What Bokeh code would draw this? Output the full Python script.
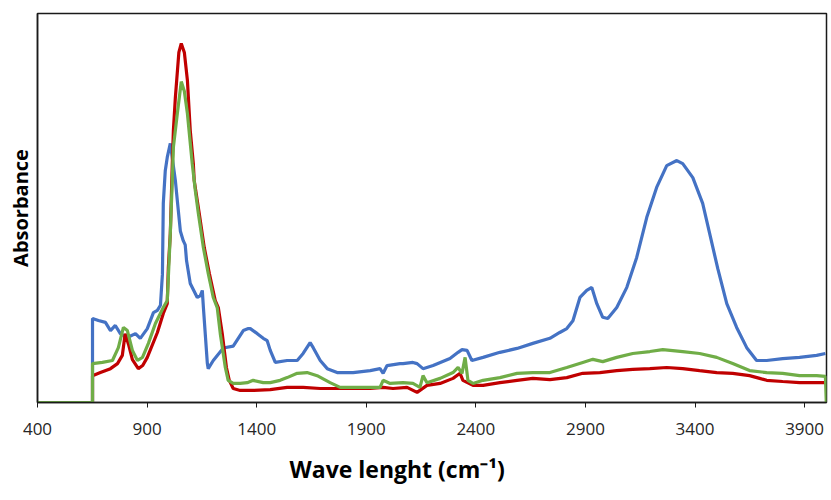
from bokeh.plotting import figure
from bokeh.models import Range1d, FixedTicker, Title
from bokeh.embed import file_html
from bokeh.resources import INLINE

# ---- data (wavenumber cm-1, absorbance a.u.) ----
blue_wn = [651, 651, 678, 710, 733, 755, 778, 810, 847, 869, 901, 929, 947, 961, 970,
           974, 983, 992, 1006, 1029, 1038, 1052, 1065, 1074, 1080, 1097, 1129, 1143,
           1152, 1157, 1175, 1179, 1202, 1248, 1293, 1339, 1362, 1371, 1403, 1430, 1448,
           1462, 1485, 1539, 1585, 1612, 1644, 1658, 1690, 1722, 1767, 1840, 1918, 1963,
           1977, 1995, 2054, 2068, 2113, 2132, 2159, 2205, 2282, 2319, 2337, 2360, 2382,
           2433, 2510, 2588, 2660, 2738, 2783, 2815, 2843, 2875, 2906, 2929, 2952, 2979,
           3002, 3043, 3089, 3134, 3180, 3225, 3271, 3317, 3344, 3390, 3435, 3467, 3504,
           3545, 3590, 3636, 3681, 3727, 3800, 3877, 3955, 3995]
blue_abs = [0.0, 0.216, 0.211, 0.206, 0.185, 0.198, 0.177, 0.167, 0.177, 0.165, 0.190,
            0.231, 0.237, 0.250, 0.330, 0.512, 0.596, 0.630, 0.666, 0.571, 0.519, 0.440,
            0.416, 0.405, 0.365, 0.306, 0.270, 0.275, 0.288, 0.244, 0.100, 0.087, 0.108,
            0.140, 0.145, 0.185, 0.190, 0.190, 0.177, 0.165, 0.159, 0.134, 0.103, 0.108,
            0.108, 0.126, 0.154, 0.141, 0.108, 0.087, 0.077, 0.077, 0.082, 0.087, 0.075,
            0.095, 0.100, 0.100, 0.103, 0.100, 0.087, 0.095, 0.113, 0.129, 0.136, 0.134,
            0.108, 0.116, 0.129, 0.139, 0.152, 0.165, 0.180, 0.190, 0.210, 0.270, 0.288,
            0.296, 0.254, 0.219, 0.216, 0.244, 0.296, 0.373, 0.476, 0.553, 0.609, 0.622,
            0.614, 0.578, 0.512, 0.434, 0.344, 0.254, 0.193, 0.141, 0.108, 0.108, 0.113,
            0.116, 0.121, 0.126]

red_wn = [651, 651, 687, 733, 765, 787, 800, 815, 833, 860, 880, 901, 947, 974, 992, 997,
          1006, 1015, 1020, 1029, 1045, 1056, 1070, 1084, 1097, 1111, 1115, 1138, 1161,
          1184, 1211, 1225, 1243, 1262, 1275, 1293, 1325, 1384, 1462, 1539, 1612, 1690,
          1767, 1840, 1918, 1977, 2022, 2086, 2132, 2177, 2237, 2296, 2328, 2341, 2387,
          2433, 2510, 2588, 2660, 2738, 2815, 2888, 2966, 3043, 3116, 3194, 3271, 3344,
          3421, 3499, 3572, 3649, 3695, 3727, 3800, 3877, 3955, 3995]
red_abs = [0.0, 0.069, 0.077, 0.087, 0.100, 0.121, 0.177, 0.150, 0.110, 0.087, 0.095,
           0.116, 0.180, 0.229, 0.254, 0.347, 0.434, 0.614, 0.699, 0.784, 0.900, 0.923,
           0.900, 0.828, 0.699, 0.614, 0.571, 0.486, 0.398, 0.332, 0.262, 0.244, 0.177,
           0.090, 0.057, 0.036, 0.031, 0.031, 0.033, 0.039, 0.039, 0.036, 0.036, 0.036,
           0.036, 0.039, 0.036, 0.039, 0.026, 0.044, 0.049, 0.062, 0.075, 0.057, 0.044,
           0.044, 0.051, 0.057, 0.062, 0.059, 0.064, 0.075, 0.077, 0.082, 0.085, 0.087,
           0.090, 0.087, 0.082, 0.077, 0.075, 0.069, 0.062, 0.057, 0.054, 0.051, 0.051,
           0.051]

green_wn = [400, 651, 651, 696, 742, 769, 792, 810, 833, 856, 879, 906, 938, 974, 992, 997,
            1006, 1015, 1020, 1038, 1056, 1070, 1084, 1106, 1120, 1134, 1157, 1179, 1202,
            1220, 1234, 1257, 1270, 1293, 1325, 1357, 1384, 1430, 1462, 1507, 1539, 1585,
            1630, 1676, 1735, 1781, 1840, 1918, 1963, 1977, 2009, 2068, 2113, 2145, 2159,
            2177, 2237, 2296, 2319, 2337, 2351, 2364, 2387, 2433, 2510, 2588, 2660, 2738,
            2815, 2888, 2934, 2979, 3043, 3116, 3194, 3253, 3344, 3421, 3499, 3572, 3649,
            3727, 3800, 3877, 3955, 3995, 3999]
green_abs = [0.0, 0.0, 0.100, 0.103, 0.108, 0.141, 0.193, 0.185, 0.134, 0.108, 0.116,
             0.152, 0.203, 0.244, 0.262, 0.321, 0.434, 0.571, 0.656, 0.743, 0.825, 0.800,
             0.743, 0.614, 0.545, 0.486, 0.398, 0.332, 0.270, 0.244, 0.177, 0.090, 0.057,
             0.049, 0.049, 0.051, 0.057, 0.051, 0.051, 0.057, 0.064, 0.075, 0.077, 0.069,
             0.051, 0.039, 0.039, 0.039, 0.039, 0.057, 0.049, 0.051, 0.049, 0.039, 0.069,
             0.051, 0.062, 0.077, 0.090, 0.075, 0.116, 0.057, 0.049, 0.057, 0.064, 0.075,
             0.077, 0.077, 0.090, 0.103, 0.111, 0.105, 0.116, 0.126, 0.131, 0.136, 0.131,
             0.126, 0.116, 0.100, 0.082, 0.077, 0.075, 0.069, 0.069, 0.067, 0.0]

x_ticks = [400, 900, 1400, 1900, 2400, 2900, 3400, 3900]
x_title = "Wave lenght (cm\u207b\u00b9)"
y_title = "Absorbance"

FONT = "Open Sans"

p = figure(width=830, height=500, output_backend="svg", toolbar_location=None,
           x_range=Range1d(400, 4000), y_range=Range1d(0, 1.0),
           min_border_left=37, min_border_right=4, min_border_top=13, min_border_bottom=98)

p.line(blue_wn, blue_abs, line_color="#4472C4", line_width=3.2)
p.line(red_wn, red_abs, line_color="#C00000", line_width=3.2)
p.line(green_wn, green_abs, line_color="#70AD47", line_width=3.2)

p.grid.visible = False
p.outline_line_color = "#1a1a1a"
p.outline_line_width = 1.5
p.background_fill_color = "white"
p.border_fill_color = "white"

xa = p.xaxis[0]
xa.ticker = FixedTicker(ticks=x_ticks)
xa.minor_tick_line_color = None
xa.major_tick_out = 5
xa.major_tick_in = 0
xa.axis_line_color = "#1a1a1a"
xa.axis_line_width = 1.5
xa.major_tick_line_color = "#1a1a1a"
xa.major_label_text_font = FONT
xa.major_label_text_font_size = "17px"
xa.major_label_text_color = "#262626"
xa.major_label_standoff = 15

# x-axis title, placed below the axis and left of the frame centre as in the reference
p.add_layout(Title(text=x_title, align="left", offset=252, standoff=27,
                   vertical_align="bottom",
                   text_font=FONT, text_font_style="bold", text_font_size="23px",
                   text_color="#000000"), "below")

ya = p.yaxis[0]
ya.ticker = FixedTicker(ticks=[])
ya.minor_tick_line_color = None
ya.major_tick_line_color = None
ya.axis_line_color = "#1a1a1a"
ya.axis_line_width = 1.5
ya.axis_label = y_title
ya.axis_label_text_font = FONT
ya.axis_label_text_font_style = "bold"
ya.axis_label_text_font_size = "20px"
ya.axis_label_text_color = "#000000"
ya.axis_label_standoff = 4

open("out.html", "w").write(file_html(p, INLINE))
